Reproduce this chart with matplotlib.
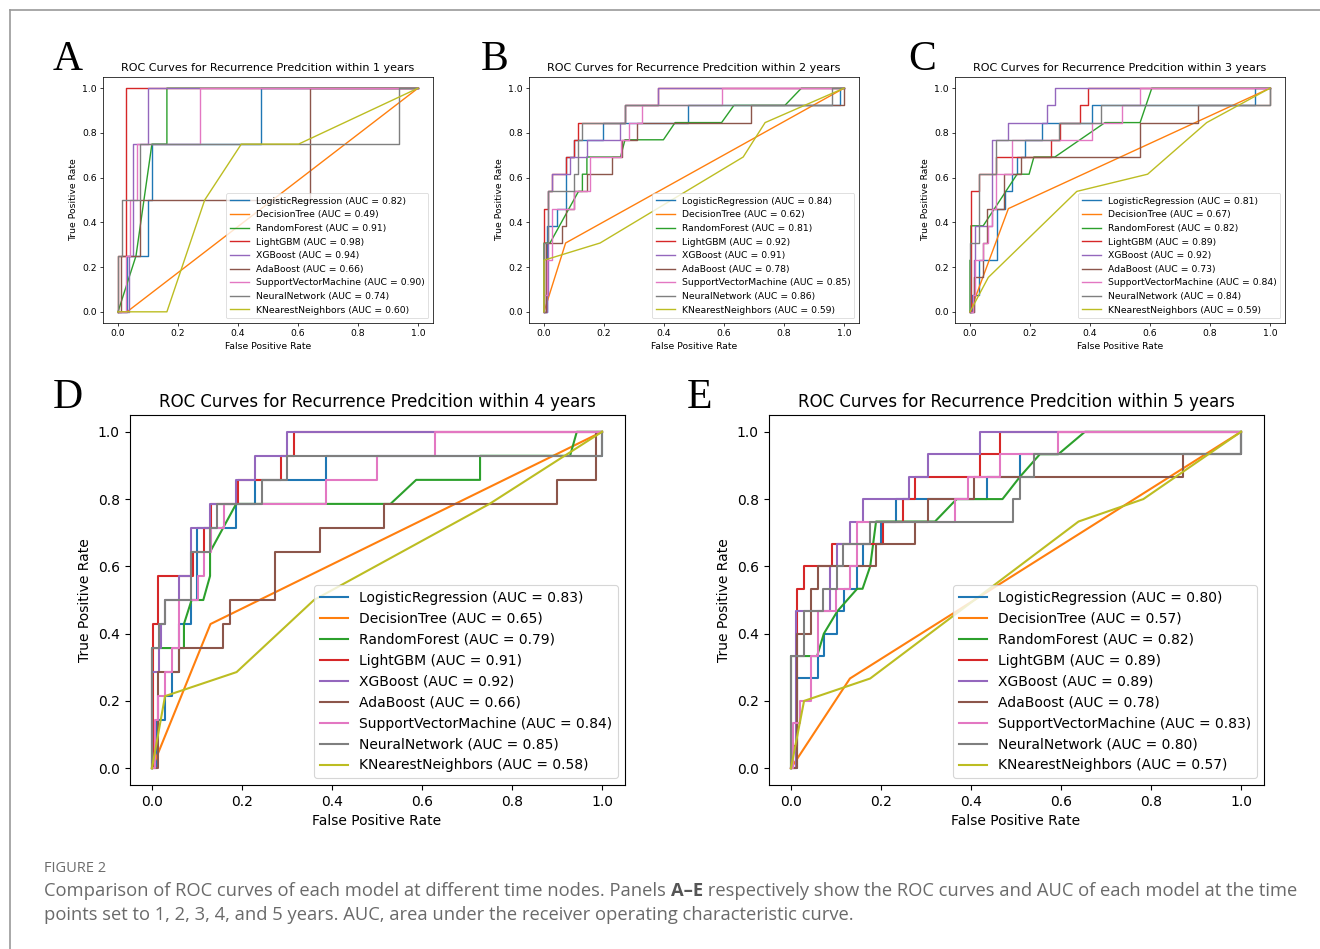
import matplotlib
matplotlib.use("Agg")
import matplotlib.pyplot as plt
from matplotlib.lines import Line2D

W, H = 1320, 949

models = ["LogisticRegression", "DecisionTree", "RandomForest", "LightGBM", "XGBoost",
          "AdaBoost", "SupportVectorMachine", "NeuralNetwork", "KNearestNeighbors"]
colors = ["#1f77b4", "#ff7f0e", "#2ca02c", "#d62728", "#9467bd",
          "#8c564b", "#e377c2", "#7f7f7f", "#bcbd22"]

years = [1, 2, 3, 4, 5]
panel_letters = ["A", "B", "C", "D", "E"]
n_pos = [4, 13, 13, 14, 15]

auc_A = [0.82, 0.49, 0.91, 0.98, 0.94, 0.66, 0.90, 0.74, 0.60]
auc_B = [0.84, 0.62, 0.81, 0.92, 0.91, 0.78, 0.85, 0.86, 0.59]
auc_C = [0.81, 0.67, 0.82, 0.89, 0.92, 0.73, 0.84, 0.84, 0.59]
auc_D = [0.83, 0.65, 0.79, 0.91, 0.92, 0.66, 0.84, 0.85, 0.58]
auc_E = [0.80, 0.57, 0.82, 0.89, 0.89, 0.78, 0.83, 0.80, 0.57]

# 's' = staircase: list of (fpr, true-positive count reached at that fpr)
# 'p' = polyline: list of (fpr, true-positive count) vertices
curves_A = {
    "LogisticRegression": ("s", [(0.03, 1), (0.1, 2), (0.113, 3), (0.476, 4)]),
    "DecisionTree": ("p", [(0, 0), (0.03, 0), (1, 4)]),
    "RandomForest": ("p", [(0, 0), (0.06, 1), (0.113, 3), (0.163, 3), (0.163, 4), (1, 4)]),
    "LightGBM": ("s", [(0, 1), (0.025, 4)]),
    "XGBoost": ("s", [(0.037, 1), (0.05, 3), (0.1, 4)]),
    "AdaBoost": ("s", [(0.011, 1), (0.074, 2), (0.639, 4)]),
    "SupportVectorMachine": ("s", [(0.026, 1), (0.039, 2), (0.064, 3), (0.274, 4)]),
    "NeuralNetwork": ("s", [(0, 1), (0.013, 2), (0.074, 3), (0.937, 4)]),
    "KNearestNeighbors": ("p", [(0, 0), (0.163, 0), (0.289, 2), (0.411, 3), (0.602, 3), (1, 4)]),
}
curves_B = {
    "LogisticRegression": ("s", [(0.01, 5), (0.042, 6), (0.072, 9), (0.1, 10), (0.198, 11), (0.479, 12), (0.987, 13)]),
    "DecisionTree": ("p", [(0, 0), (0.072, 4), (1, 13)]),
    "RandomForest": ("p", [(0, 0), (0, 4), (0.02, 4), (0.115, 7), (0.128, 7), (0.128, 8), (0.143, 8), (0.143, 9),
                           (0.255, 9), (0.27, 10), (0.398, 10), (0.437, 11), (0.592, 11), (0.633, 12),
                           (0.803, 12), (0.858, 13), (1, 13)]),
    "LightGBM": ("s", [(0, 6), (0.014, 7), (0.028, 8), (0.072, 9), (0.1, 10), (0.114, 11), (0.27, 12), (0.381, 13)]),
    "XGBoost": ("s", [(0.009, 1), (0.014, 7), (0.028, 8), (0.087, 9), (0.142, 10), (0.253, 11), (0.27, 12), (0.381, 13)]),
    "AdaBoost": ("s", [(0.006, 4), (0.059, 5), (0.072, 6), (0.1, 7), (0.142, 8), (0.226, 9), (0.26, 10), (0.309, 11), (0.69, 12), (1.0, 13)]),
    "SupportVectorMachine": ("s", [(0, 1), (0.009, 3), (0.028, 6), (0.1, 7), (0.153, 9), (0.255, 10), (0.283, 11), (0.326, 12), (0.592, 13)]),
    "NeuralNetwork": ("s", [(0, 4), (0.014, 7), (0.1, 8), (0.114, 10), (0.128, 11), (0.27, 12), (0.96, 13)]),
    "KNearestNeighbors": ("p", [(0, 0), (0, 3), (0.187, 4), (0.664, 9), (0.737, 11), (1, 13)]),
}
curves_C = {
    "LogisticRegression": ("s", [(0.005, 1), (0.03, 3), (0.09, 6), (0.115, 7), (0.141, 8), (0.157, 9), (0.183, 10), (0.241, 11), (0.408, 12), (0.95, 13)]),
    "DecisionTree": ("p", [(0, 0), (0.128, 6), (1, 13)]),
    "RandomForest": ("p", [(0, 0), (0, 3), (0.003, 3), (0.003, 5), (0.044, 5), (0.157, 8), (0.197, 8), (0.213, 9),
                           (0.283, 9), (0.45, 11), (0.567, 11), (0.606, 13), (1, 13)]),
    "LightGBM": ("s", [(0.003, 7), (0.03, 8), (0.086, 9), (0.27, 10), (0.3, 11), (0.367, 12), (0.394, 13)]),
    "XGBoost": ("s", [(0.013, 3), (0.017, 5), (0.072, 10), (0.128, 11), (0.256, 12), (0.283, 13)]),
    "AdaBoost": ("s", [(0.013, 2), (0.044, 4), (0.056, 6), (0.114, 8), (0.17, 9), (0.567, 11), (0.761, 12), (1.0, 13)]),
    "SupportVectorMachine": ("s", [(0.01, 1), (0.017, 3), (0.044, 4), (0.06, 5), (0.072, 6), (0.086, 8), (0.141, 10), (0.408, 11), (0.508, 12), (0.567, 13)]),
    "NeuralNetwork": ("s", [(0, 4), (0.03, 8), (0.086, 10), (0.297, 11), (0.436, 12), (1.0, 13)]),
    "KNearestNeighbors": ("p", [(0, 0), (0.061, 2), (0.356, 7), (0.592, 8), (0.789, 11), (1, 13)]),
}
curves_D = {
    "LogisticRegression": ("s", [(0.01, 2), (0.029, 3), (0.044, 4), (0.06, 6), (0.086, 7), (0.101, 10), (0.187, 11), (0.229, 12), (0.386, 13), (1.0, 14)]),
    "DecisionTree": ("p", [(0, 0), (0.13, 6), (1, 14)]),
    "RandomForest": ("p", [(0, 0), (0, 5), (0.071, 5), (0.071, 6), (0.088, 7), (0.114, 7), (0.129, 8), (0.129, 9),
                           (0.187, 11), (0.53, 11), (0.587, 12), (0.729, 12), (0.729, 13), (0.929, 13), (0.944, 14), (1, 14)]),
    "LightGBM": ("s", [(0.003, 6), (0.014, 8), (0.09, 9), (0.116, 10), (0.13, 11), (0.19, 12), (0.286, 13), (0.316, 14)]),
    "XGBoost": ("s", [(0.0, 4), (0.016, 5), (0.02, 6), (0.029, 7), (0.059, 8), (0.086, 10), (0.129, 11), (0.187, 12), (0.229, 13), (0.299, 14)]),
    "AdaBoost": ("s", [(0.014, 4), (0.059, 5), (0.157, 6), (0.173, 7), (0.273, 9), (0.373, 10), (0.516, 11), (0.9, 12), (0.987, 14)]),
    "SupportVectorMachine": ("s", [(0.007, 2), (0.014, 3), (0.029, 4), (0.044, 5), (0.059, 7), (0.103, 8), (0.116, 9), (0.13, 10), (0.159, 11), (0.386, 12), (0.5, 13), (0.629, 14)]),
    "NeuralNetwork": ("s", [(0, 5), (0.016, 6), (0.029, 7), (0.086, 9), (0.129, 10), (0.144, 11), (0.244, 12), (0.299, 13), (1.0, 14)]),
    "KNearestNeighbors": ("p", [(0, 0), (0.029, 3), (0.188, 4), (0.36, 7), (0.75, 11), (1, 14)]),
}
curves_E = {
    "LogisticRegression": ("s", [(0.014, 4), (0.059, 5), (0.073, 6), (0.103, 7), (0.118, 8), (0.147, 9), (0.159, 10), (0.2, 11), (0.233, 12), (0.436, 13), (0.509, 14), (1.0, 15)]),
    "DecisionTree": ("p", [(0, 0), (0.131, 4), (1, 15)]),
    "RandomForest": ("p", [(0, 0), (0, 5), (0.058, 5), (0.073, 6), (0.103, 7), (0.147, 8), (0.159, 8), (0.176, 9),
                           (0.189, 11), (0.32, 11), (0.368, 12), (0.47, 12), (0.509, 13), (0.553, 14), (0.594, 14), (0.653, 15), (1, 15)]),
    "LightGBM": ("s", [(0.005, 1), (0.014, 8), (0.029, 9), (0.09, 10), (0.204, 11), (0.248, 12), (0.276, 13), (0.42, 14), (0.464, 15)]),
    "XGBoost": ("s", [(0.01, 7), (0.087, 9), (0.103, 10), (0.131, 11), (0.159, 12), (0.263, 13), (0.305, 14), (0.42, 15)]),
    "AdaBoost": ("s", [(0.014, 6), (0.044, 8), (0.059, 9), (0.189, 10), (0.276, 11), (0.305, 12), (0.407, 13), (0.872, 14), (1.0, 15)]),
    "SupportVectorMachine": ("s", [(0.005, 2), (0.02, 3), (0.044, 5), (0.059, 7), (0.1, 8), (0.131, 9), (0.147, 11), (0.364, 12), (0.394, 13), (0.464, 14), (0.594, 15)]),
    "NeuralNetwork": ("s", [(0, 5), (0.029, 7), (0.072, 8), (0.103, 9), (0.116, 10), (0.176, 11), (0.494, 12), (0.509, 13), (0.539, 14), (1.0, 15)]),
    "KNearestNeighbors": ("p", [(0, 0), (0.029, 3), (0.176, 4), (0.639, 11), (0.783, 12), (1, 15)]),
}

caption_head = "FIGURE 2"
caption_l1a = "Comparison of ROC curves of each model at different time nodes. Panels "
caption_l1b = "A\u2013E"
caption_l1c = " respectively show the ROC curves and AUC of each model at the time"
caption_l2 = "points set to 1, 2, 3, 4, and 5 years. AUC, area under the receiver operating characteristic curve."


def to_xy(kind, spec, n):
    if kind == "s":
        xs, ys = [0.0], [0.0]
        for f, t in spec:
            xs += [f, f]
            ys += [ys[-1], t]
        xs.append(1.0)
        ys.append(ys[-1])
    else:
        xs = [p[0] for p in spec]
        ys = [p[1] for p in spec]
    return xs, [y / n for y in ys]


fig = plt.figure(figsize=(W / 100, H / 100), dpi=100)
fig.patch.set_facecolor("white")


def px_axes(l, r, t, b):
    return fig.add_axes([l / W, 1 - b / H, (r - l) / W, (b - t) / H])


# (left, right, top, bottom) in pixels, scale factor
layout = [
    (103, 433, 77, 323, 0.667),
    (529, 859, 77, 323, 0.667),
    (955, 1285, 77, 323, 0.667),
    (129.5, 624.5, 415, 785, 1.0),
    (768.5, 1263.5, 415, 785, 1.0),
]
letter_pos = [(68, 60), (495, 60), (922, 60), (68, 398), (700, 398)]
all_curves = [curves_A, curves_B, curves_C, curves_D, curves_E]
all_auc = [auc_A, auc_B, auc_C, auc_D, auc_E]

for i in range(5):
    l, r, t, b, s = layout[i]
    ax = px_axes(l, r, t, b)
    curves = all_curves[i]
    for j, m in enumerate(models):
        kind, spec = curves[m]
        xs, ys = to_xy(kind, spec, n_pos[i])
        ax.plot(xs, ys, color=colors[j], lw=1.5 * s,
                label=f"{m} (AUC = {all_auc[i][j]:.2f})")
    ax.set_xlim(-0.05, 1.05)
    ax.set_ylim(-0.05, 1.05)
    ax.set_xticks([0, 0.2, 0.4, 0.6, 0.8, 1.0])
    ax.set_yticks([0, 0.2, 0.4, 0.6, 0.8, 1.0])
    ax.tick_params(labelsize=10 * s, length=3.5 * s, width=0.8 * s, pad=3.5 * s)
    for sp in ax.spines.values():
        sp.set_linewidth(0.8 * s)
    ax.set_xlabel("False Positive Rate", fontsize=10 * s, labelpad=4 * s)
    ax.set_ylabel("True Positive Rate", fontsize=10 * s, labelpad=4 * s)
    ax.set_title(f"ROC Curves for Recurrence Predcition within {years[i]} years",
                 fontsize=12 * s, pad=6 * s)
    leg = ax.legend(loc="lower right", fontsize=10 * s, borderaxespad=0.5,
                    handlelength=2.0, handletextpad=0.8, labelspacing=0.5)
    leg.get_frame().set_linewidth(0.8 * s)
    lx, ly = letter_pos[i]
    fig.text(lx / W, 1 - ly / H, panel_letters[i], fontsize=30,
             family="Liberation Serif", ha="center", va="center")

# frame lines
fig.add_artist(Line2D([10 / W, 1.0], [1 - 10 / H, 1 - 10 / H], color="#9a9a9a", lw=1.2))
fig.add_artist(Line2D([10 / W, 10 / W], [1 - 10 / H, 0.0], color="#9a9a9a", lw=1.2))

# caption
cap_font = "Open Sans"
cap_size = 13.2
fig.text(44 / W, 1 - 869 / H, caption_head, fontsize=10.5, color="#6d6d6d",
         family=cap_font, va="center", ha="left")
renderer = fig.canvas.get_renderer()
t1 = fig.text(44 / W, 1 - 891 / H, caption_l1a, fontsize=cap_size, color="#6a6a6a",
              family=cap_font, va="center", ha="left")
bb = t1.get_window_extent(renderer)
t2 = fig.text(bb.x1 / W, 1 - 891 / H, caption_l1b, fontsize=cap_size, color="#555555",
              family=cap_font, weight="bold", va="center", ha="left")
bb2 = t2.get_window_extent(renderer)
fig.text(bb2.x1 / W, 1 - 891 / H, caption_l1c, fontsize=cap_size, color="#6a6a6a",
         family=cap_font, va="center", ha="left")
fig.text(44 / W, 1 - 915 / H, caption_l2, fontsize=cap_size, color="#6a6a6a",
         family=cap_font, va="center", ha="left")

fig.savefig("out.png", dpi=100, facecolor="white")
